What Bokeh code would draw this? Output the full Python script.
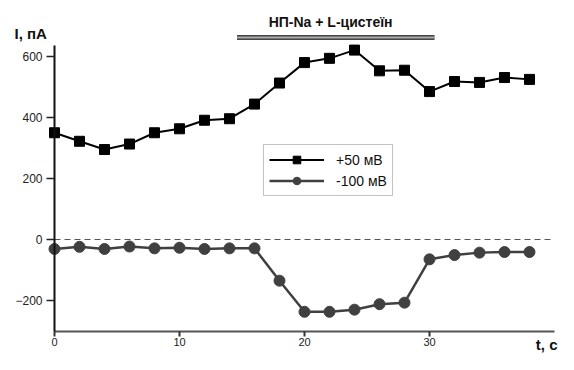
from bokeh.plotting import figure
from bokeh.models import Range1d, Label, Legend, LegendItem, FixedTicker, ColumnDataSource
from bokeh.embed import file_html
from bokeh.resources import INLINE

# ---- data ----
t = [0, 2, 4, 6, 8, 10, 12, 14, 16, 18, 20, 22, 24, 26, 28, 30, 32, 34, 36, 38]
i_plus50 = [350, 322, 295, 313, 350, 363, 391, 396, 444, 513, 580, 594, 621, 553, 555, 485, 518, 515, 531, 525]
i_minus100 = [-31, -24, -31, -23, -29, -27, -31, -29, -29, -135, -237, -237, -230, -212, -207, -65, -51, -43, -41, -41]
series_names = ["+50 мВ", "-100 мВ"]
treatment_t = [14.6, 30.4]
treatment_label = "НП-Na  +  L-цистеїн"
x_ticks = [0, 10, 20, 30]
y_ticks = [-200, 0, 200, 400, 600]

FONT = "Liberation Sans"

p = figure(width=558, height=354, x_range=Range1d(-4.32, 40.32), y_range=Range1d(-377.0, 783.6),
           output_backend="svg", toolbar_location=None,
           min_border_left=0, min_border_right=0, min_border_top=0, min_border_bottom=0)
p.outline_line_color = None
p.grid.visible = False
p.background_fill_color = "white"

# axes (drawn at fixed data locations inside the frame)
xa = p.xaxis[0]
xa.fixed_location = -300
xa.ticker = FixedTicker(ticks=x_ticks)
xa.bounds = (0, 40)
xa.axis_line_color = "#555555"
xa.axis_line_width = 2
xa.major_tick_line_color = "#333333"
xa.major_tick_line_width = 2
xa.major_tick_out = 5
xa.major_tick_in = 0
xa.minor_tick_line_color = None
xa.major_label_standoff = 2
xa.major_label_text_font = FONT
xa.major_label_text_font_size = "11px"
xa.major_label_text_color = "#222222"

ya = p.yaxis[0]
ya.fixed_location = 0
ya.ticker = FixedTicker(ticks=y_ticks)
ya.bounds = (-300, 635)
ya.axis_line_color = "#111111"
ya.axis_line_width = 2
ya.major_tick_line_color = "#222222"
ya.major_tick_line_width = 1.5
ya.major_tick_out = 8
ya.major_tick_in = 0
ya.minor_tick_line_color = None
ya.major_label_standoff = 4
ya.major_label_text_font = FONT
ya.major_label_text_font_size = "12px"
ya.major_label_text_color = "#222222"

# zero dashed line
p.line([0, 40], [0, 0], line_color="#555555", line_width=1, line_dash="6 4")

# treatment bar
p.line(treatment_t, [662, 662], line_color="#444444", line_width=5)
p.line(treatment_t, [662, 662], line_color="#aaaaaa", line_width=2)
p.add_layout(Label(x=22.4, y=712, text=treatment_label,
                   text_align="center", text_baseline="middle", text_font=FONT,
                   text_font_size="14px", text_font_style="bold", text_color="#111111"))

# series
src = ColumnDataSource(dict(t=t, a=i_plus50, b=i_minus100))
l1 = p.line("t", "a", source=src, line_color="#000000", line_width=2)
s1 = p.scatter("t", "a", source=src, marker="square", size=10, fill_color="#000000", line_color="#000000")
l2 = p.line("t", "b", source=src, line_color="#404040", line_width=2.5)
s2 = p.scatter("t", "b", source=src, marker="circle", size=11, fill_color="#404040", line_color="#404040")

legend = Legend(items=[LegendItem(label=series_names[0], renderers=[l1, s1]),
                       LegendItem(label=series_names[1], renderers=[l2, s2])],
                location=(263, 158), orientation="vertical")
legend.glyph_width = 55
legend.glyph_height = 19
legend.label_height = 19
legend.label_standoff = 12
legend.padding = 5
legend.spacing = 2
legend.margin = 0
legend.label_text_font = FONT
legend.label_text_font_size = "14px"
legend.label_text_color = "#111111"
legend.border_line_color = "#888888"
legend.border_line_width = 1
legend.background_fill_alpha = 1
p.add_layout(legend, "center")

# axis titles
p.add_layout(Label(x=-3.2, y=675, text="I, пА", text_align="left", text_baseline="middle",
                   text_font=FONT, text_font_size="15px", text_font_style="bold", text_color="#111111"))
p.add_layout(Label(x=40.24, y=-344, text="t, с", text_align="right", text_baseline="middle",
                   text_font=FONT, text_font_size="15px", text_font_style="bold", text_color="#111111"))

open("out.html", "w").write(file_html(p, INLINE))
